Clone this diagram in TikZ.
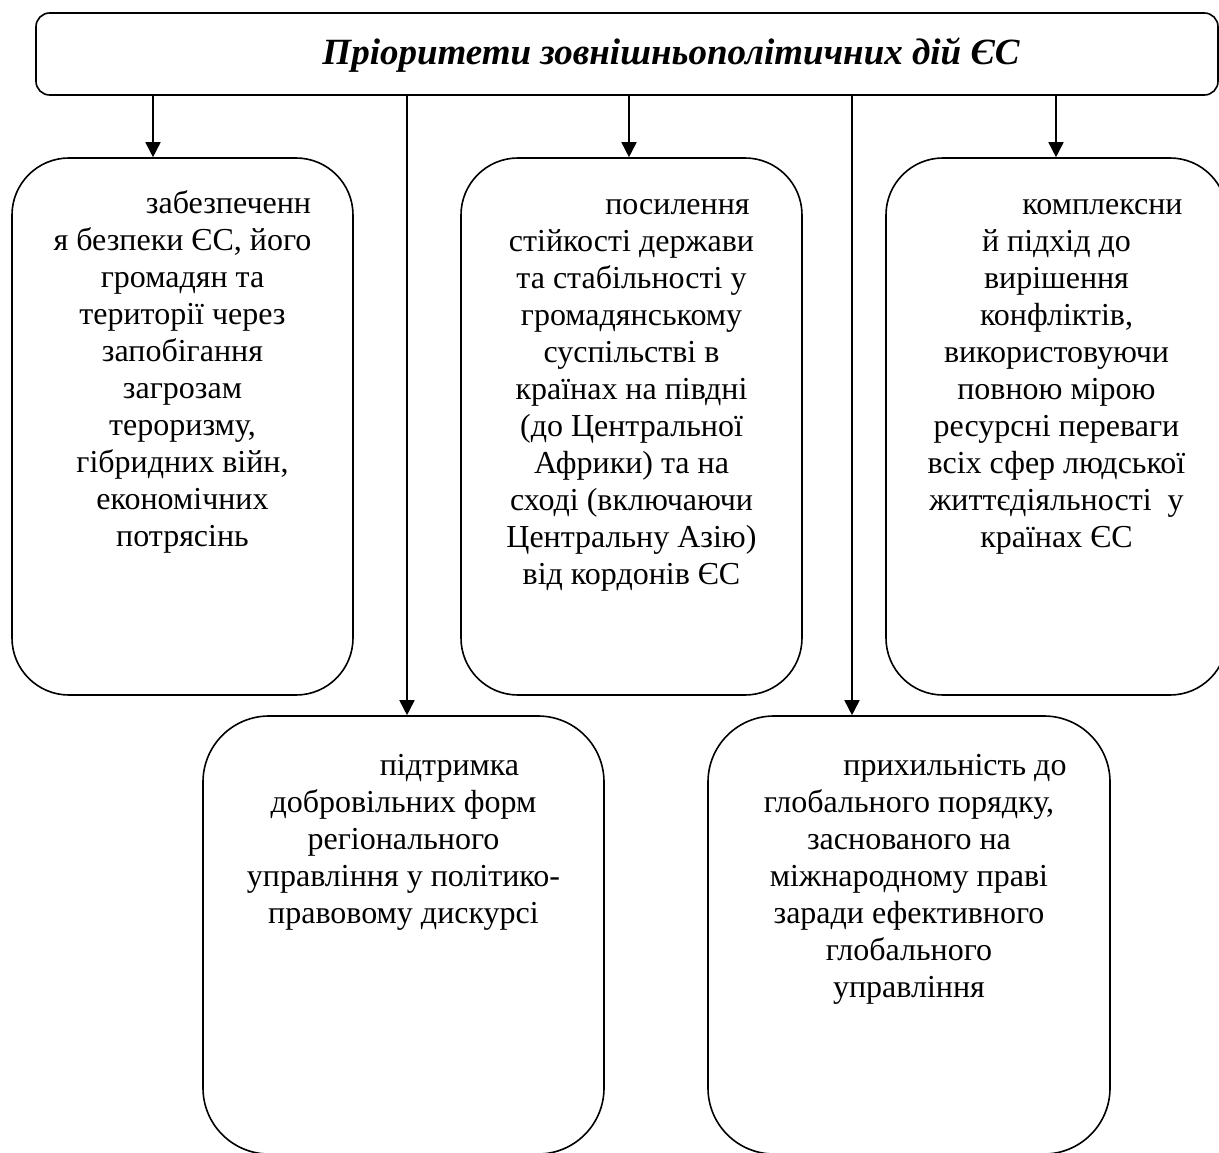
\documentclass[tikz,border=0pt]{standalone}
\usepackage{fontspec}
\setmainfont{Liberation Serif}
\usetikzlibrary{arrows.meta}
\tikzset{
  pbox/.style={draw, line width=1.6pt, rounded corners=#1, inner sep=0pt, fill=none},
  ptext/.style={align=center, inner sep=0pt, anchor=north, font=\fontsize{32}{37}\selectfont},
  parr/.style={line width=1.6pt, -{Triangle[width=15pt,length=15pt]}}
}
\begin{document}
\begin{tikzpicture}[x=1pt,y=-1pt]
\useasboundingbox (0,0) rectangle (1219,1153);
\clip (0,0) rectangle (1219,1153);
\fill[white] (0,0) rectangle (1219,1153);
% title
\node[pbox=13.7pt, minimum width=1182pt, minimum height=82pt] (title) at (627,54) {};
\node[anchor=base, inner sep=0pt, font=\fontsize{37}{40}\selectfont\bfseries\itshape] (tt) at (671,65) {Пріоритети зовнішньополітичних дій ЄС};
% boxes
\node[pbox=57pt, minimum width=341pt, minimum height=537pt] (b1) at (182.5,426.5) {};
\node[pbox=57pt, minimum width=341pt, minimum height=537pt] (b2) at (631.5,426.5) {};
\node[pbox=57pt, minimum width=341pt, minimum height=537pt] (b3) at (1056.5,426.5) {};
\node[pbox=66pt, minimum width=401pt, minimum height=438pt] (b4) at (403.5,935) {};
\node[pbox=66pt, minimum width=402pt, minimum height=438pt] (b5) at (909,935) {};
% texts
\node[ptext] (t1) at (182.5,187.1) {\strut\hspace*{92pt}забезпеченн\\я безпеки ЄС, його\\громадян та\\території через\\запобігання\\загрозам\\тероризму,\\гібридних війн,\\економічних\\потрясінь};
\node[ptext] (t2) at (631.5,188.1) {\strut\hspace*{92pt}посилення\\стійкості держави\\та стабільності у\\громадянському\\суспільстві в\\країнах на півдні\\(до Центральної\\Африки) та на\\сході (включаючи\\Центральну Азію)\\від кордонів ЄС};
\node[ptext] (t3) at (1056.5,188.1) {\strut\hspace*{92pt}комплексни\\й підхід до\\вирішення\\конфліктів,\\використовуючи\\повною мірою\\ресурсні переваги\\всіх сфер людської\\життєдіяльності~ у\\країнах ЄС};
\node[ptext] (t4) at (403.5,749.1) {\strut\hspace*{92pt}підтримка\\добровільних форм\\регіонального\\управління у політико-\\правовому дискурсі};
\node[ptext] (t5) at (909,749.1) {\strut\hspace*{92pt}прихильність до\\глобального порядку,\\заснованого на\\міжнародному праві\\заради ефективного\\глобального\\управління};
% arrows
\coordinate (a1) at ([xshift=-29.5pt]b1.north);
\coordinate (a2) at ([xshift=3.5pt]b4.north);
\coordinate (a3) at ([xshift=-2.5pt]b2.north);
\coordinate (a4) at ([xshift=-57pt]b5.north);
\coordinate (a5) at ([xshift=-0.5pt]b3.north);
\draw[parr] (a1 |- title.south) -- (a1);
\draw[parr] (a2 |- title.south) -- (a2);
\draw[parr] (a3 |- title.south) -- (a3);
\draw[parr] (a4 |- title.south) -- (a4);
\draw[parr] (a5 |- title.south) -- (a5);
\end{tikzpicture}
\end{document}
